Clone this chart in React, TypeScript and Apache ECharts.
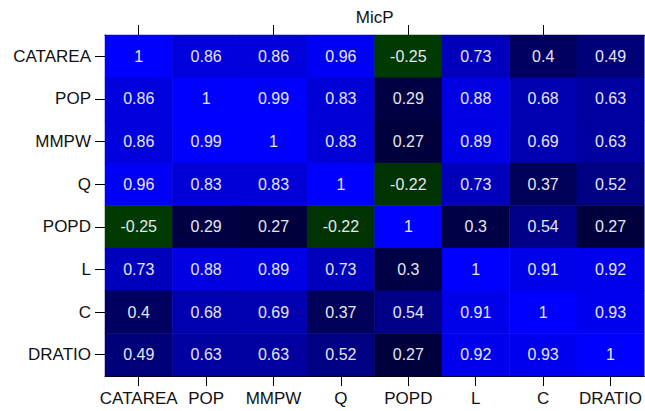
import React, { useEffect, useRef } from "react";
import * as echarts from "echarts";

const categories = ["CATAREA", "POP", "MMPW", "Q", "POPD", "L", "C", "DRATIO"];
const rowCATAREA = [1, 0.86, 0.86, 0.96, -0.25, 0.73, 0.4, 0.49];
const rowPOP = [0.86, 1, 0.99, 0.83, 0.29, 0.88, 0.68, 0.63];
const rowMMPW = [0.86, 0.99, 1, 0.83, 0.27, 0.89, 0.69, 0.63];
const rowQ = [0.96, 0.83, 0.83, 1, -0.22, 0.73, 0.37, 0.52];
const rowPOPD = [-0.25, 0.29, 0.27, -0.22, 1, 0.3, 0.54, 0.27];
const rowL = [0.73, 0.88, 0.89, 0.73, 0.3, 1, 0.91, 0.92];
const rowC = [0.4, 0.68, 0.69, 0.37, 0.54, 0.91, 1, 0.93];
const rowDRATIO = [0.49, 0.63, 0.63, 0.52, 0.27, 0.92, 0.93, 1];
const rows = [rowCATAREA, rowPOP, rowMMPW, rowQ, rowPOPD, rowL, rowC, rowDRATIO];
const axisTitle = "MicP";

export default function App() {
  const ref = useRef<HTMLDivElement>(null);
  useEffect(() => {
    document.body.style.margin = "0";
    const chart = echarts.init(ref.current!, null, { renderer: "svg" });
    const data: [number, number, number][] = [];
    rows.forEach((row, yi) => row.forEach((v, xi) => data.push([xi, yi, v])));
    const font = "'Liberation Sans', Arial, sans-serif";
    const baseAxis = {
      type: "category" as const,
      data: categories,
      axisLine: { show: true, lineStyle: { color: "#000", width: 1 } },
      axisTick: { show: true, alignWithLabel: true, length: 10, lineStyle: { color: "#000" } },
      splitLine: { show: false },
    };
    chart.setOption({
      animation: false,
      backgroundColor: "#fff",
      grid: { left: 105, right: 0, top: 35, bottom: 35, containLabel: false },
      xAxis: [
        {
          ...baseAxis,
          position: "bottom",
          axisLabel: { color: "#111", fontSize: 17, fontFamily: font, margin: 14, interval: 0 },
        },
        {
          ...baseAxis,
          position: "top",
          axisLabel: { show: false },
          name: axisTitle,
          nameLocation: "middle",
          nameGap: 9,
          nameTextStyle: { color: "#111", fontSize: 17, fontFamily: font },
        },
      ],
      yAxis: {
        ...baseAxis,
        inverse: true,
        axisLabel: { color: "#111", fontSize: 17, fontFamily: font, margin: 14, interval: 0 },
      },
      visualMap: {
        show: false,
        type: "continuous",
        dimension: 2,
        min: -0.25,
        max: 1,
        inRange: { color: ["#003a00", "#000008", "#000038", "#00007c", "#0000c2", "#0000ff"] },
      },
      series: [
        {
          type: "heatmap",
          xAxisIndex: 0,
          yAxisIndex: 0,
          data,
          label: {
            show: true,
            color: "#e6e6f0",
            fontSize: 16,
            fontFamily: font,
            formatter: (p: any) => String(p.value[2]),
          },
          itemStyle: { borderWidth: 0 },
        },
      ],
    });
    return () => chart.dispose();
  }, []);
  return <div ref={ref} style={{ width: 645, height: 411, position: "absolute", left: 0, top: 0 }} />;
}
